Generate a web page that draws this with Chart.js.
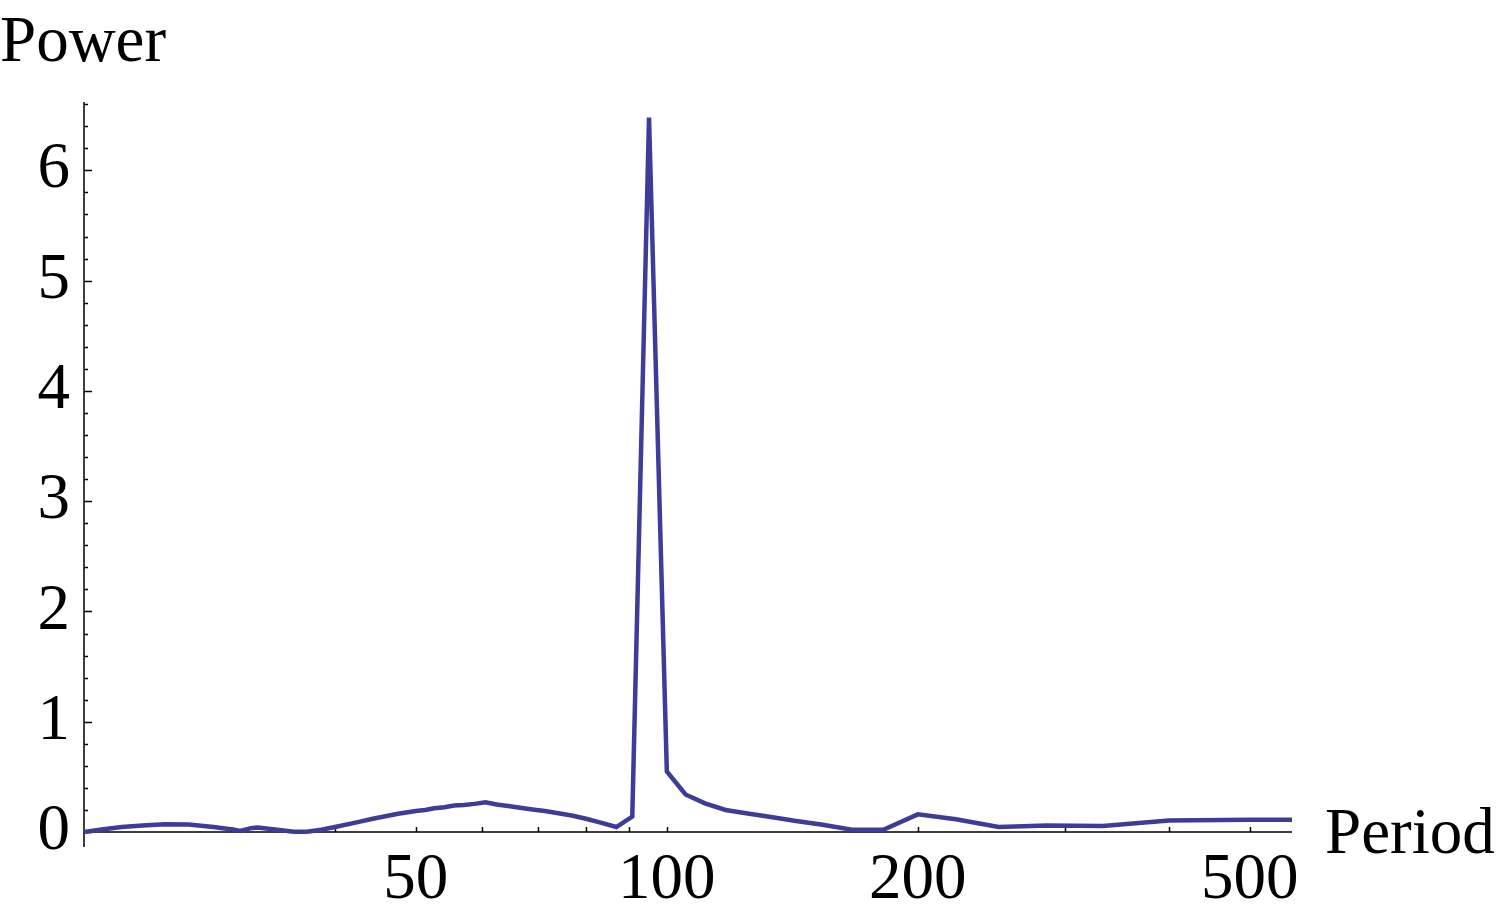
<!DOCTYPE html>
<html>
<head>
<meta charset="utf-8">
<title>Power vs Period</title>
<script src="https://cdn.jsdelivr.net/npm/chart.js@4/dist/chart.umd.min.js"></script>
<style>
  html, body { margin: 0; padding: 0; background: #fff; }
  #wrap { width: 1500px; height: 923px; }
</style>
</head>
<body>
<div id="wrap"><canvas id="chart" width="1500" height="923"></canvas></div>
<script>
// periods (x, log axis) and power
var periods = [20, 21.1, 22.2, 23.5, 25, 26.7, 28.6, 30.3, 30.8, 31.7, 32.3, 33.3, 34.5, 35.7, 37, 38.5,
  40, 42.6, 44.4, 47.6, 50, 51.3, 52.6, 54.1, 55.6, 57.1, 58.8, 60.6, 62.5, 64.5, 66.7, 69, 71.4,
  74.1, 76.9, 80, 83.3, 87, 90.9, 95.2, 100, 105.3, 111.1, 117.6, 125, 133.3, 142.9, 153.8, 166.7,
  181.8, 200, 222.2, 250, 285.7, 333.3, 400, 500, 562];
var power = [0.0, 0.025, 0.045, 0.06, 0.07, 0.068, 0.045, 0.02, 0.01, 0.035, 0.04, 0.03, 0.015, 0.003, 0.003, 0.02,
  0.045, 0.09, 0.12, 0.165, 0.19, 0.2, 0.215, 0.225, 0.24, 0.245, 0.255, 0.27, 0.25, 0.235, 0.22, 0.205, 0.19,
  0.17, 0.15, 0.12, 0.085, 0.045, 0.14, 6.48, 0.55, 0.34, 0.26, 0.2, 0.168, 0.136, 0.1, 0.066, 0.02,
  0.02, 0.16, 0.115, 0.045, 0.06, 0.055, 0.105, 0.11, 0.11];

var xTicks = [30, 40, 50, 60, 70, 80, 90, 100, 200, 300, 400, 500];
var xLabels = [50, 100, 200, 500];
var yTicks = [0, 1, 2, 3, 4, 5, 6];

var lineColor = '#3d3d99';
var serif = '"Liberation Serif", "Times New Roman", serif';

// Mathematica-style axes: lines crossing at y = 0, ticks pointing inwards
var axesPlugin = {
  id: 'mmaAxes',
  beforeDatasetsDraw: function(chart) {
    var ctx = chart.ctx, area = chart.chartArea;
    var xs = chart.scales.x, ys = chart.scales.y;
    var y0 = ys.getPixelForValue(0);
    ctx.save();
    ctx.strokeStyle = '#000';
    ctx.lineWidth = 1.5;
    ctx.beginPath();
    ctx.moveTo(area.left, area.top);
    ctx.lineTo(area.left, area.bottom);
    ctx.moveTo(area.left, y0);
    ctx.lineTo(area.right, y0);
    // x ticks
    xTicks.forEach(function(v) {
      var px = Math.round(xs.getPixelForValue(v)) + 0.5;
      ctx.moveTo(px, y0);
      ctx.lineTo(px, y0 - 5);
    });
    // y ticks, major every 1, minor every 0.2
    for (var i = 0; i <= 33; i++) {
      var v = i / 5;
      if (v > ys.max) break;
      var py = Math.round(ys.getPixelForValue(v)) + 0.5;
      ctx.moveTo(area.left, py);
      ctx.lineTo(area.left + (i % 5 === 0 ? 8 : 4), py);
    }
    ctx.stroke();
    ctx.restore();
  },
  afterDraw: function(chart) {
    var ctx = chart.ctx;
    ctx.save();
    ctx.fillStyle = '#000';
    ctx.font = '65px ' + serif;
    ctx.textBaseline = 'alphabetic';
    ctx.textAlign = 'left';
    ctx.fillText('Power', 0, 61);
    ctx.fillText('Period', 1325, 853);
    ctx.restore();
  }
};

var ctx = document.getElementById('chart');
var chart = new Chart(ctx, {
  type: 'line',
  data: {
    datasets: [{
      data: periods.map(function(p, i) { return { x: p, y: power[i] }; }),
      borderColor: lineColor,
      borderWidth: 4.5,
      pointRadius: 0,
      tension: 0,
      fill: false
    }]
  },
  plugins: [axesPlugin],
  options: {
    responsive: false,
    animation: false,
    layout: { padding: { top: 102, right: 208, left: 0, bottom: 0 } },
    plugins: { legend: { display: false }, tooltip: { enabled: false } },
    scales: {
      x: {
        type: 'logarithmic',
        min: 20,
        max: 562,
        grid: { display: false, drawTicks: false },
        border: { display: false },
        afterBuildTicks: function(scale) {
          scale.ticks = xTicks.map(function(v) { return { value: v }; });
        },
        afterFit: function(scale) { scale.height = 76; },
        ticks: {
          autoSkip: false,
          maxRotation: 0,
          padding: 1,
          color: '#000',
          font: { family: serif, size: 65, lineHeight: 1 },
          callback: function(v) { return xLabels.indexOf(v) >= 0 ? String(v) : ''; }
        }
      },
      y: {
        type: 'linear',
        min: -0.136,
        max: 6.62,
        grid: { display: false, drawTicks: false },
        border: { display: false },
        afterBuildTicks: function(scale) {
          scale.ticks = yTicks.map(function(v) { return { value: v }; });
        },
        afterFit: function(scale) { scale.width = 84; },
        ticks: {
          padding: 14,
          color: '#000',
          font: { family: serif, size: 65, lineHeight: 1 },
          callback: function(v) { return String(v); }
        }
      }
    }
  }
});
</script>
</body>
</html>
